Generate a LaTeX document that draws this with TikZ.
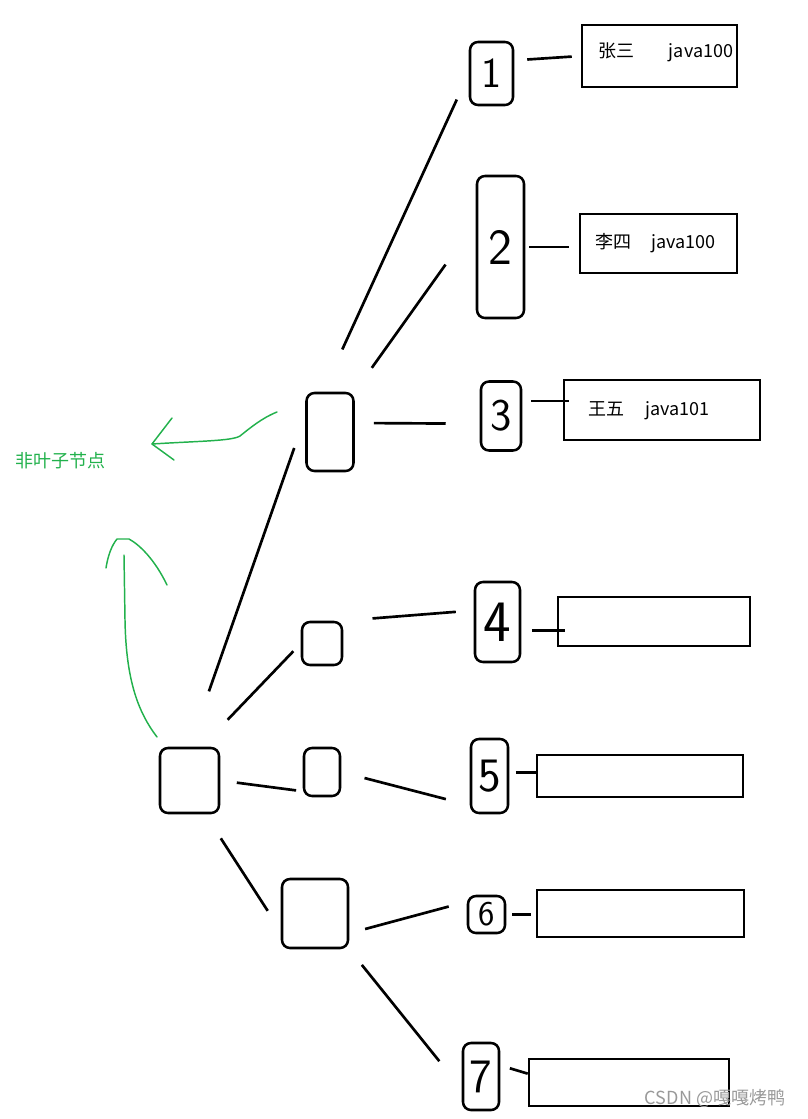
\documentclass[tikz,border=0pt]{standalone}
\usepackage{fontspec}
\newfontfamily\cjk{Noto Sans CJK SC}
\usepackage{tikz}

\definecolor{pengreen}{RGB}{34,177,76}

\begin{document}
\begin{tikzpicture}[x=0.75pt,y=0.75pt,yscale=-1,xscale=1,
  keybox/.style={draw, rounded corners=6pt, line width=1.9pt, inner sep=0pt},
  databox/.style={draw, line width=1.9pt, inner sep=0pt},
  datatext/.style={anchor=west, inner sep=0pt, font=\cjk\fontsize{13.5}{13.5}\selectfont},
  link/.style={line width=2pt},
  pen/.style={color=pengreen, line width=1.1pt, line cap=round, line join=round}]
\useasboundingbox (0,0) rectangle (807,1119);

% Root and inner nodes
\node [keybox, minimum width=44.25pt, minimum height=48.75pt] (root) at (189.5,780.5) {};
\node [keybox, minimum width=35.25pt, minimum height=58.5pt] (n1) at (330,432) {};
\node [keybox, minimum width=30pt, minimum height=32.25pt] (n2) at (322,643.5) {};
\node [keybox, minimum width=27pt, minimum height=36pt] (n3) at (322,772) {};
\node [keybox, minimum width=49.5pt, minimum height=51.75pt] (n4) at (315,913.5) {};

% Leaf keys
\node [keybox, minimum width=32.25pt, minimum height=47.25pt, font=\sffamily\fontsize{32}{32}\selectfont] (k1) at (491.5,73.5) {1};
\node [keybox, minimum width=35.25pt, minimum height=106.5pt, font=\sffamily\fontsize{38}{38}\selectfont] (k2) at (500.5,247) {2};
\node [keybox, minimum width=30pt, minimum height=51.75pt, font=\sffamily\fontsize{34}{34}\selectfont] (k3) at (501,416) {3};
\node [keybox, minimum width=33.75pt, minimum height=60pt, font=\sffamily\fontsize{44}{44}\selectfont] (k4) at (497.5,622) {4};
\node [keybox, minimum width=27.75pt, minimum height=55.5pt, font=\sffamily\fontsize{36}{36}\selectfont] (k5) at (489.5,776) {5};
\node [keybox, minimum width=27.75pt, minimum height=27.75pt, font=\sffamily\fontsize{26}{26}\selectfont] (k6) at (486.5,914.5) {6};
\node [keybox, minimum width=27pt, minimum height=50.25pt, font=\sffamily\fontsize{36}{36}\selectfont] (k7) at (481,1076.5) {7};

% Data rows
\node [databox, minimum width=116.25pt, minimum height=46.5pt] (d1) at (659.5,56) {};
\node [databox, minimum width=117.75pt, minimum height=44.25pt] (d2) at (658.5,243.5) {};
\node [databox, minimum width=147pt, minimum height=45pt] (d3) at (662,410) {};
\node [databox, minimum width=144pt, minimum height=36.75pt] (d4) at (654,621.5) {};
\node [databox, minimum width=154.5pt, minimum height=31.5pt] (d5) at (640,776) {};
\node [databox, minimum width=155.25pt, minimum height=35.25pt] (d6) at (640.5,913.5) {};
\node [databox, minimum width=150pt, minimum height=35.25pt] (d7) at (629,1082.5) {};

% Text Node
\begin{scope}
\clip (d1.south west) rectangle (d1.north east);
\node [datatext] (t1) at (598,52) {张三\hspace{26pt}java100};
\end{scope}
% Text Node
\node [datatext] (t2) at (595,243) {李四\hspace{15pt}java100};
% Text Node
\node [datatext] (t3) at (588,411) {王五\hspace{16pt}java101};

%Straight Lines
\draw [link, shorten <=34.9pt, shorten >=21.5pt] (n1.100) -- (k1.west);
\draw [link, shorten <=22pt, shorten >=39pt] (n1.north east) -- (k2.135);
\draw [link, shorten <=14.25pt, shorten >=25.5pt] (n1.20) -- (k3.200);
\draw [link, shorten <=9.75pt, shorten >=6.75pt] (k1.30) -- (d1.west);
\draw [link, shorten <=3pt, shorten >=7.5pt] (k2.east) -- (k2.east -| d2.west);
\draw [link, shorten <=6.75pt, shorten >=-4.5pt] (k3.35) -- (k3.35 -| d3.west);
%Straight Lines
\draw [link, shorten <=44pt, shorten >=25pt] (root.north) -- (n1.148);
\draw [link, shorten <=28pt, shorten >=8pt] (root.70) -- (n2.west);
\draw [link, shorten <=12.5pt, shorten >=5pt] (root.east) -- (n3.225);
\draw [link, shorten <=21.5pt, shorten >=18pt] (root.-65) -- (n4.207);
%Straight Lines
\draw [link, shorten <=22pt, shorten >=13.5pt] (n2.north east) -- (k4.154);
\draw [link, shorten <=8pt, shorten >=-6pt] (k4.-20) -- (k4.-20 -| d4.west);
\draw [link, shorten <=18pt, shorten >=18.5pt] (n3.east) -- (k5.236);
\draw [link, shorten <=5pt] (k5.10) -- (k5.10 -| d5.west);
\draw [link, shorten <=12.3pt, shorten >=14pt] (n4.-30) -- (k6.147);
\draw [link, shorten <=4.5pt, shorten >=3.75pt] (k6.east) -- (k6.east -| d6.west);
\draw [link, shorten <=15pt, shorten >=26.8pt] (n4.south east) -- (k7.213);
\draw [link, shorten <=7.5pt] (k7.30) -- (d7.175);

% Green notes
\node [inner sep=0pt, text=pengreen, font=\cjk\fontsize{13.5}{13.5}\selectfont] (lbl) at (60,461) {非叶子节点};
\draw [pen] (277,412) .. controls (262,418) and (250,428) .. (240,436) .. controls (232,441) and (200,441) .. (152,444);
\draw [pen] (172,418) -- (152,444) -- (174,460);
\draw [pen] (157,737) .. controls (138,712) and (126,680) .. (125,620) -- (124,555);
\draw [pen] (106,568) .. controls (108,555) and (112,545) .. (117,539) -- (129,539) .. controls (140,545) and (155,560) .. (167,585);

% Text Node
\node [inner sep=0pt, text=black!40, font=\cjk\fontsize{13.5}{13.5}\selectfont] (mark) at (715,1098) {CSDN @嘎嘎烤鸭};

\end{tikzpicture}
\end{document}
